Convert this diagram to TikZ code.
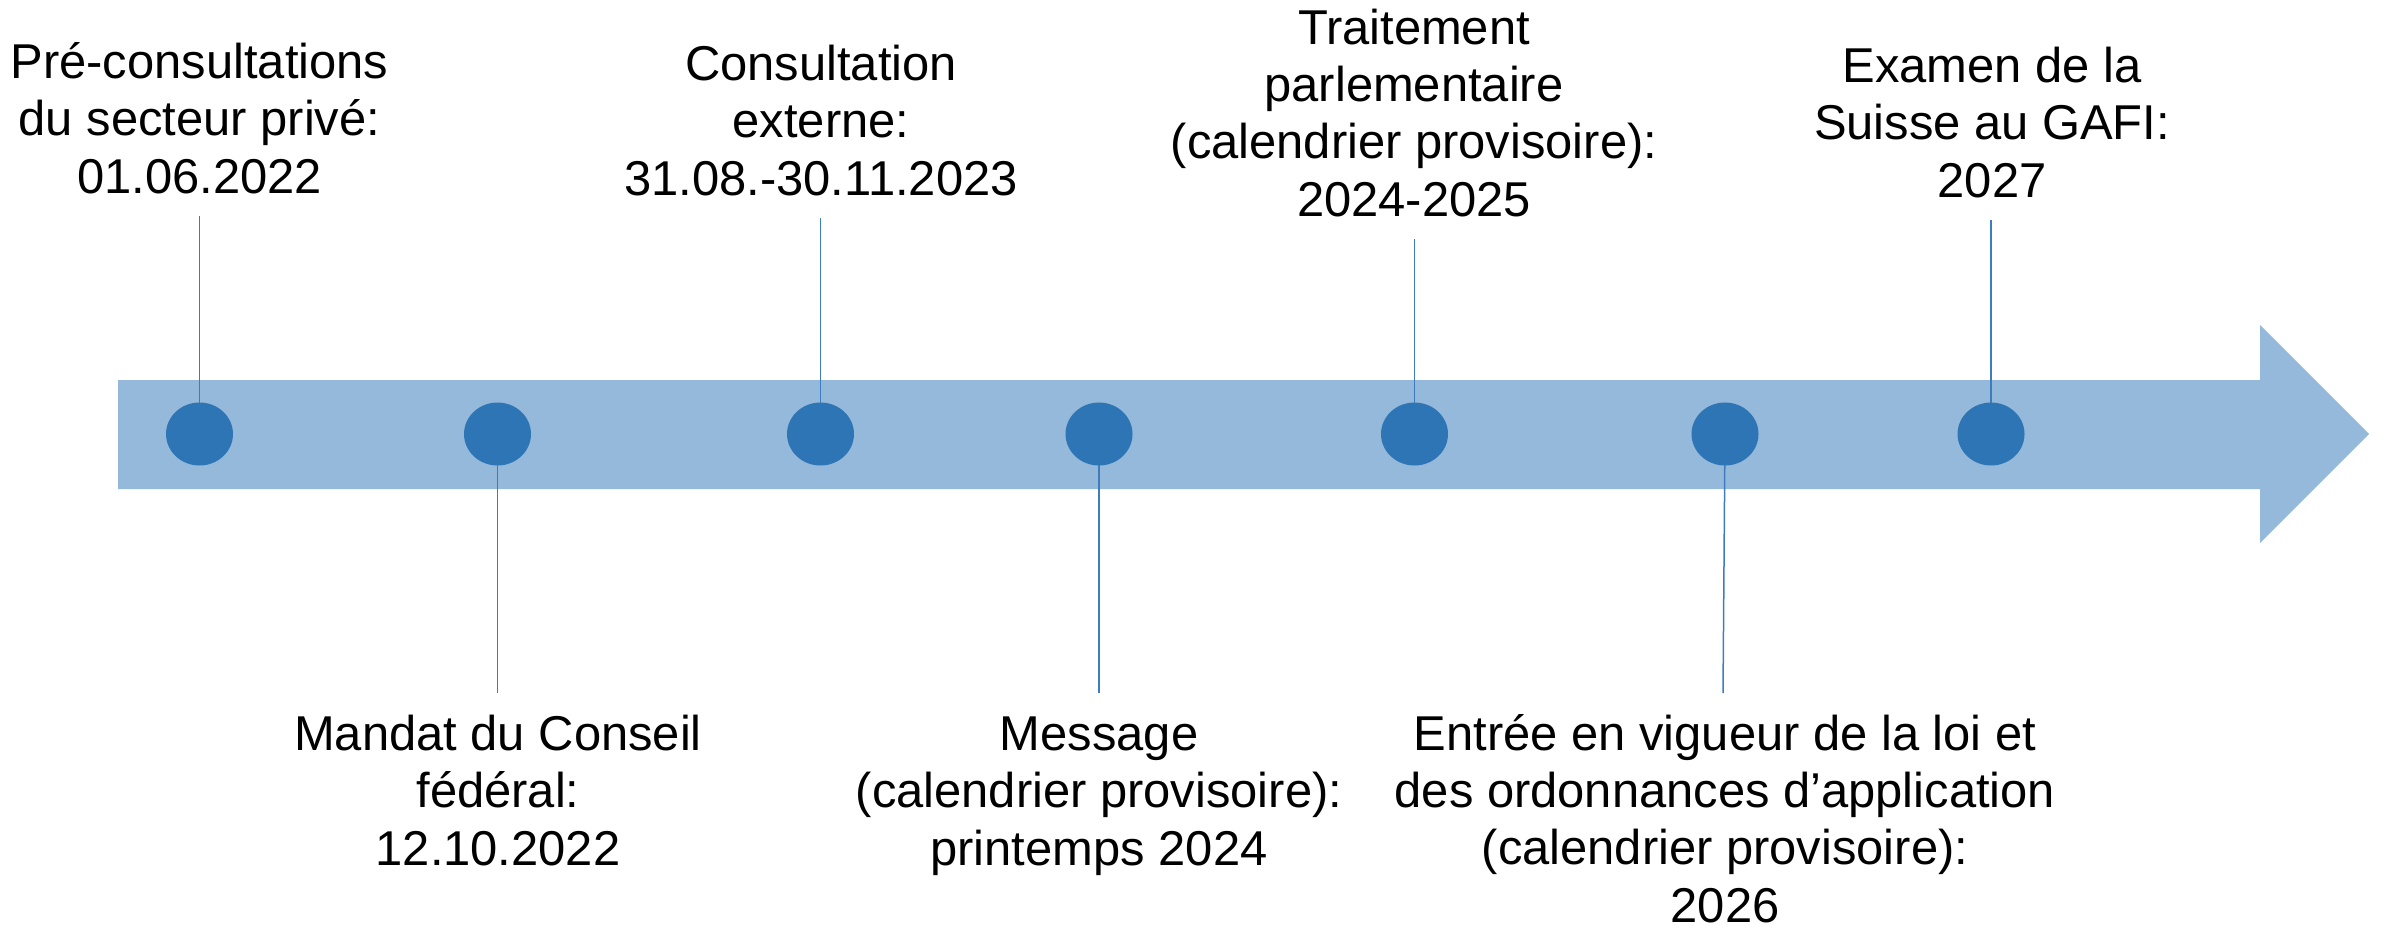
\documentclass[tikz,border=0pt]{standalone}
\usepackage{fontspec}
\setmainfont{Liberation Sans}
\usetikzlibrary{shapes.geometric}
\definecolor{barblue}{RGB}{149,185,218}
\definecolor{dotblue}{RGB}{46,117,182}
\definecolor{lineblue}{RGB}{62,124,190}
\tikzset{
  dotnode/.style={ellipse, fill=dotblue, draw=none, minimum width=33.5pt, minimum height=31.5pt, inner sep=0pt},
  lbl/.style={align=center, anchor=base, inner sep=0pt, font=\fontsize{24.45pt}{28.6pt}\selectfont, text=black},
  tick/.style={draw=lineblue, line width=0.75pt}
}
\begin{document}
\begin{tikzpicture}[x=0.5pt,y=-0.5pt]
\useasboundingbox (0,0) rectangle (2387,927);
\fill[barblue] (118,380) -- (2260,380) -- (2260,325) -- (2369,434) -- (2260,543) -- (2260,489) -- (118,489) -- cycle;
% coordinates for free ends
\coordinate (t1) at (199.5,216);
\coordinate (t2) at (497.5,693);
\coordinate (t3) at (820.5,218);
\coordinate (t4) at (1099,693);
\coordinate (t5) at (1414.5,239);
\coordinate (t6) at (1723,693);
\coordinate (t7) at (1991,220);
% dot centres
\path (199.5,434) coordinate (c1) (497.5,434) coordinate (c2) (820.5,434) coordinate (c3)
      (1099,434) coordinate (c4) (1414.5,434) coordinate (c5) (1725,434) coordinate (c6) (1991,434) coordinate (c7);
% connectors (drawn under dots)
\draw[tick] (t1) -- (c1);
\draw[tick] (t2) -- (c2);
\draw[tick] (t3) -- (c3);
\draw[tick] (t4) -- (c4);
\draw[tick] (t5) -- (c5);
\draw[tick] (t6) -- (c6);
\draw[tick] (t7) -- (c7);
% dots
\node[dotnode] (d1) at (c1) {};
\node[dotnode] (d2) at (c2) {};
\node[dotnode] (d3) at (c3) {};
\node[dotnode] (d4) at (c4) {};
\node[dotnode] (d5) at (c5) {};
\node[dotnode] (d6) at (c6) {};
\node[dotnode] (d7) at (c7) {};
% labels (anchored at the baseline of the last line)
\node[lbl] (l1) at (199.5,193) {Pré-consultations\\du secteur privé:\\01.06.2022};
\node[lbl] (l2) at (498,865) {Mandat du Conseil\\fédéral:\\12.10.2022};
\node[lbl] (l3) at (821,195) {Consultation\\externe:\\31.08.-30.11.2023};
\node[lbl] (l4) at (1099,865) {Message\\(calendrier provisoire):\\printemps 2024};
\node[lbl] (l5) at (1414,216) {Traitement\\parlementaire\\(calendrier provisoire):\\2024-2025};
\node[lbl] (l6) at (1725,922) {Entrée en vigueur de la loi et\\des ordonnances d’application\\(calendrier provisoire):\\2026};
\node[lbl] (l7) at (1992,197) {Examen de la\\Suisse au GAFI:\\2027};
\end{tikzpicture}
\end{document}
